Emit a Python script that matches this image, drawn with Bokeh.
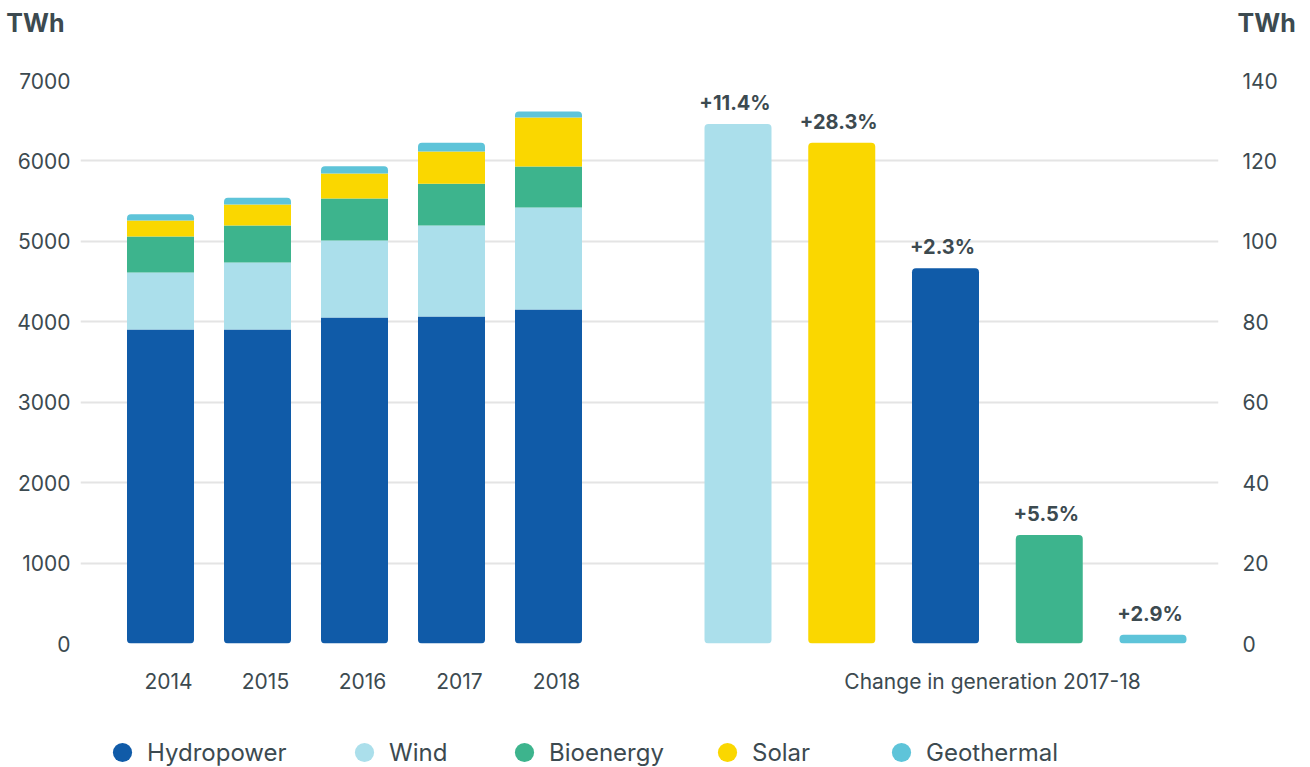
import numpy as np
from bokeh.plotting import figure
from bokeh.layouts import column
from bokeh.models import Range1d, LinearAxis, Legend, LegendItem, FixedTicker
from bokeh.embed import file_html
from bokeh.resources import INLINE
from bokeh.core.properties import value

# ---------------- data ----------------
years = ["2014", "2015", "2016", "2017", "2018"]
hydropower = [3904, 3904, 4053, 4066, 4153]
wind = [709, 833, 958, 1131, 1268]
bioenergy = [447, 460, 522, 519, 510]
solar = [199, 261, 311, 401, 609]
geothermal = [79, 83, 90, 108, 74]

change_sources = ["Wind", "Solar", "Hydropower", "Bioenergy", "Geothermal"]
change_twh = [129.2, 124.5, 93.3, 27.0, 2.2]
change_pct = ["+11.4%", "+28.3%", "+2.3%", "+5.5%", "+2.9%"]
change_label = "Change in generation 2017-18"

left_ticks = [0, 1000, 2000, 3000, 4000, 5000, 6000, 7000]
right_ticks = [0, 20, 40, 60, 80, 100, 120, 140]
unit = "TWh"

legend_names = ["Hydropower", "Wind", "Bioenergy", "Solar", "Geothermal"]

# ---------------- style ----------------
COLORS = {
    "Hydropower": "#105ba8",
    "Wind": "#abdfeb",
    "Bioenergy": "#3db48d",
    "Solar": "#fad700",
    "Geothermal": "#5ec4d9",
}
TEXT = "#3c4a50"
FONT = "Inter"
PAGE_W = 1310
FRAME_W, FRAME_H = 1138, 563
TOP, BOTTOM, LEFT = 24, 60, 80
RIGHT = PAGE_W - LEFT - FRAME_W


def plain_axis(ax, standoff, size="21px", bold=False):
    ax.axis_line_color = None
    ax.major_tick_line_color = None
    ax.minor_tick_line_color = None
    ax.major_label_standoff = standoff
    ax.major_label_text_font = FONT
    ax.major_label_text_font_size = size
    ax.major_label_text_color = TEXT
    if bold:
        ax.major_label_text_font_style = "bold"


# ---------------- header (unit titles as single-tick axes) ----------------
HEAD_H = 56
header = figure(width=PAGE_W, height=HEAD_H, x_range=Range1d(0, FRAME_W),
                y_range=Range1d(0, HEAD_H), x_axis_location=None,
                toolbar_location=None, output_backend="svg",
                min_border_left=LEFT, min_border_right=RIGHT,
                min_border_top=0, min_border_bottom=0)
header.outline_line_color = None
header.grid.visible = False
unit_y = HEAD_H - 22
hl = header.yaxis[0]
hl.ticker = FixedTicker(ticks=[unit_y])
hl.major_label_overrides = {unit_y: unit}
plain_axis(hl, 10, "25px", bold=True)
hr = LinearAxis(ticker=FixedTicker(ticks=[unit_y]))
hr.major_label_overrides = {unit_y: unit}
plain_axis(hr, 13, "25px", bold=True)
header.add_layout(hr, "right")

# ---------------- main chart ----------------
p = figure(width=PAGE_W, height=TOP + FRAME_H + BOTTOM,
           x_range=Range1d(0, FRAME_W), y_range=Range1d(0, left_ticks[-1]),
           output_backend="svg", toolbar_location=None,
           min_border_left=LEFT, min_border_right=RIGHT,
           min_border_top=TOP, min_border_bottom=BOTTOM)
p.outline_line_color = None
p.xgrid.visible = False
p.ygrid.grid_line_color = "#e4e4e4"
p.ygrid.grid_line_width = 2

ya = p.yaxis[0]
ya.ticker = FixedTicker(ticks=left_ticks)
plain_axis(ya, 4)

p.extra_y_ranges = {"chg": Range1d(0, right_ticks[-1])}
ra = LinearAxis(y_range_name="chg", ticker=FixedTicker(ticks=right_ticks))
plain_axis(ra, 18)
p.add_layout(ra, "right")

# positions (layout)
BAR_W = 67
year_x = [80 + 97 * i for i in range(len(years))]
chg_x = [657.5 + 103.75 * i for i in range(len(change_sources))]

# stacked bars
layers = [("Hydropower", hydropower), ("Wind", wind), ("Bioenergy", bioenergy),
          ("Solar", solar), ("Geothermal", geothermal)]
bottom = np.zeros(len(years))
for k, (name, vals) in enumerate(layers):
    top = bottom + np.array(vals, dtype=float)
    r = p.vbar(x=year_x, width=BAR_W, bottom=bottom, top=top,
               fill_color=COLORS[name], line_color=None)
    if k == 0:
        r.glyph.border_radius = (0, 0, 4, 4)
    elif k == len(layers) - 1:
        r.glyph.border_radius = (4, 4, 0, 0)
    bottom = top

# change bars
rc = p.vbar(x=chg_x, width=BAR_W, bottom=0, top=change_twh,
            fill_color=[COLORS[s] for s in change_sources], line_color=None,
            y_range_name="chg")
rc.glyph.border_radius = 4

p.text(x=chg_x, y=change_twh, text=change_pct, y_range_name="chg",
       x_offset=-3, y_offset=-9,
       text_align="center", text_baseline="bottom",
       text_font=value(FONT), text_font_style="bold", text_font_size="20px",
       text_color=TEXT)

# x axis labels
xa = p.xaxis[0]
label_ticks = [x + 8 for x in year_x]
chg_label_x = 912
xa.ticker = FixedTicker(ticks=label_ticks + [chg_label_x])
overrides = {t: y for t, y in zip(label_ticks, years)}
overrides[chg_label_x] = change_label
xa.major_label_overrides = overrides
plain_axis(xa, 19)

# ---------------- legend strip ----------------
LEG_H = 767 - HEAD_H - (TOP + FRAME_H + BOTTOM)
leg_fig = figure(width=PAGE_W, height=LEG_H, x_range=Range1d(0, FRAME_W),
                 y_range=Range1d(0, LEG_H), x_axis_location=None,
                 y_axis_location=None, toolbar_location=None,
                 output_backend="svg",
                 min_border_left=LEFT, min_border_right=RIGHT,
                 min_border_top=0, min_border_bottom=0)
leg_fig.outline_line_color = None
leg_fig.grid.visible = False
legend_cx = [122, 364, 524, 727, 901]
for name, cx in zip(legend_names, legend_cx):
    dr = leg_fig.scatter(x=[-1000], y=[-1000], size=10, marker="circle",
                         fill_color=COLORS[name], line_color=None)
    leg = Legend(items=[LegendItem(label=name, renderers=[dr])],
                 location=(cx - 24 - LEFT, LEG_H - 49 - 24),
                 orientation="horizontal",
                 glyph_width=48, glyph_height=48, label_standoff=1,
                 padding=0, margin=0, spacing=0,
                 border_line_color=None, background_fill_alpha=0,
                 label_text_font=FONT, label_text_font_size="24px",
                 label_text_color=TEXT)
    leg_fig.add_layout(leg)

layout = column(header, p, leg_fig, spacing=0)
open("out.html", "w").write(file_html(layout, INLINE))
